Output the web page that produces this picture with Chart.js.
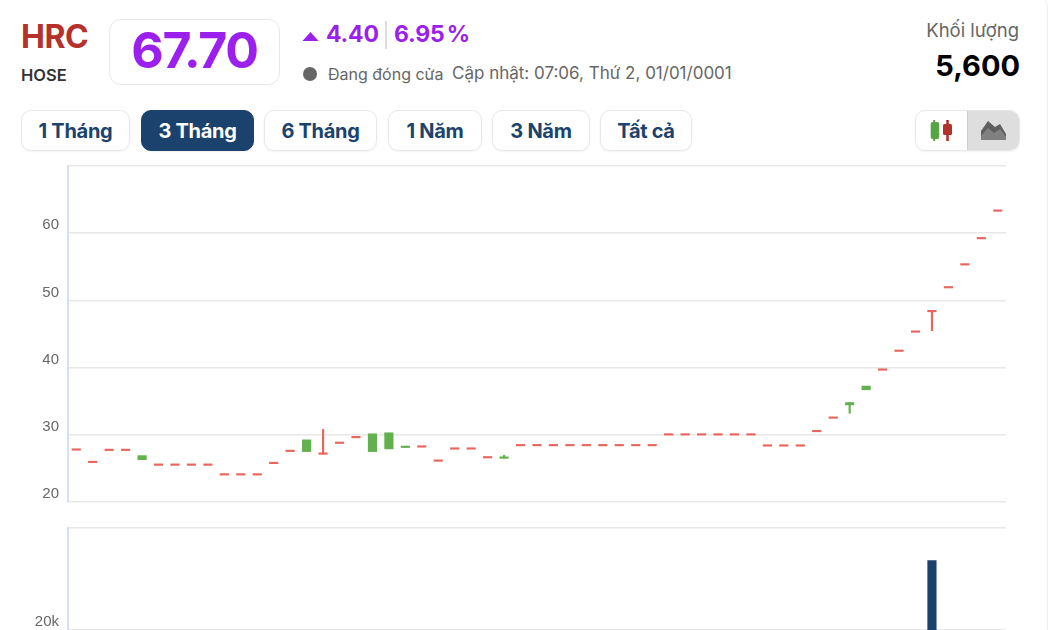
<!DOCTYPE html>
<html lang="vi">
<head>
<meta charset="utf-8">
<title>HRC</title>
<script src="https://cdn.jsdelivr.net/npm/chart.js@4"></script>
<style>
  html, body { margin: 0; padding: 0; background: #fff; }
  body { position: relative; width: 1050px; height: 630px; overflow: hidden; font-family: Inter, sans-serif; }
  .t { position: absolute; white-space: nowrap; line-height: 1; }
  .btn { position: absolute; top: 110px; height: 41px; box-sizing: border-box; border: 1.5px solid #e8e8e8; border-radius: 10px;
         box-shadow: 0 1px 2px rgba(0,0,0,.06); color: #1b436e; font-size: 20px; font-weight: 700; text-align: center; line-height: 41px; letter-spacing: -.3px; }
  .btn.on { background: #1a426d; border-color: #1a426d; color: #fff; }
  canvas { position: absolute; left: 0; }
</style>
</head>
<body>
<div style="position:absolute;left:-20px;top:-8px;width:1068px;height:700px;box-sizing:border-box;border:1.5px solid #eee;border-radius:16px"></div>
<div class="t" style="left:21px;top:21px;font-size:32px;font-weight:700;color:#b5312b;letter-spacing:-.5px">HRC</div>
<div class="t" style="left:21px;top:67px;font-size:16.5px;font-weight:600;color:#333">HOSE</div>
<div style="position:absolute;left:109px;top:19px;width:171px;height:66px;box-sizing:border-box;border:1.5px solid #e8e8e8;border-radius:12px"></div>
<div class="t" style="left:109px;width:171px;text-align:center;top:25px;font-size:50px;font-weight:700;color:#9b20ee;letter-spacing:-1.2px">67.70</div>
<svg style="position:absolute;left:302px;top:31px" width="17" height="11"><polygon points="8.5,1 16.5,10 0.5,10" fill="#9b20ee"/></svg>
<div class="t" style="left:326px;top:23px;font-size:23px;font-weight:700;color:#9b20ee;letter-spacing:-.2px">4.40</div>
<div style="position:absolute;left:385px;top:21px;width:2px;height:28px;background:#ddd"></div>
<div class="t" style="left:394px;top:23px;font-size:23px;font-weight:700;color:#9b20ee;letter-spacing:-.2px;word-spacing:-3px">6.95 %</div>
<div style="position:absolute;left:303px;top:67px;width:14px;height:14px;border-radius:50%;background:#666"></div>
<div class="t" style="left:328px;top:66px;font-size:16px;color:#666">Đang đóng cửa</div>
<div class="t" style="left:452px;top:65px;font-size:17px;color:#666">Cập nhật: 07:06, Thứ 2, 01/01/0001</div>
<div class="t" style="right:31px;top:21px;font-size:18.5px;color:#666">Khối lượng</div>
<div class="t" style="right:30px;top:51px;font-size:29px;font-weight:700;color:#000">5,600</div>

<div class="btn" style="left:21px;width:109px">1 Tháng</div>
<div class="btn on" style="left:141px;width:113px">3 Tháng</div>
<div class="btn" style="left:264px;width:113px">6 Tháng</div>
<div class="btn" style="left:388px;width:94px">1 Năm</div>
<div class="btn" style="left:492px;width:98px">3 Năm</div>
<div class="btn" style="left:600px;width:92px">Tất cả</div>

<div style="position:absolute;left:915px;top:110px;width:105px;height:41px;box-sizing:border-box;border:1.5px solid #e8e8e8;border-radius:10px;overflow:hidden;box-shadow:0 1px 2px rgba(0,0,0,.06)">
  <div style="position:absolute;left:51px;top:0;right:0;bottom:0;background:#dedede;border-left:1.5px solid #ccc"></div>
</div>
<svg style="position:absolute;left:925px;top:116px" width="30" height="30">
  <rect x="8.2" y="4" width="2" height="21" fill="#55a545"/><rect x="5.7" y="6" width="8.5" height="17" rx="2" fill="#55a545"/>
  <rect x="21.2" y="4" width="2.6" height="21" fill="#b5312b"/><rect x="18" y="8" width="9" height="11" rx="1.5" fill="#b5312b"/>
</svg>
<svg style="position:absolute;left:980px;top:119px" width="27" height="22">
  <polygon points="1,12 8,2 15,8 20,5 26,15 26,21 1,21" fill="#5f5f5f"/>
  <polygon points="1,17 8,9 14,14 20,10 26,18 26,21 1,21" fill="#808080"/>
</svg>

<canvas id="priceChart" style="top:148px" width="1050" height="372"></canvas>
<canvas id="volumeChart" style="top:510px" width="1050" height="240"></canvas>

<script>
const priceTicks = [20, 30, 40, 50, 60, 70];
const sessions = Array.from({ length: 57 }, (_, i) => i + 1);

const opens = [27.8, 25.95, 27.75, 27.75, 26.3, 25.55, 25.55, 25.55, 25.55, 24.1, 24.1, 24.1, 25.8, 27.6, 27.5, 27.3, 28.8, 29.65, 27.5, 27.9, 28.1, 28.25, 26.15, 27.95, 27.95, 26.65, 26.5, 28.45, 28.45, 28.45, 28.45, 28.45, 28.45, 28.45, 28.45, 28.45, 30.05, 30.05, 30.05, 30.05, 30.05, 30.05, 28.4, 28.4, 28.4, 30.55, 32.55, 34.45, 36.7, 39.7, 42.5, 45.35, 48.5, 51.95, 55.35, 59.25, 63.35];
const closes = [27.7, 25.85, 27.65, 27.65, 26.9, 25.45, 25.45, 25.45, 25.45, 24.0, 24.0, 24.0, 25.7, 27.5, 29.25, 27.1, 28.7, 29.55, 30.15, 30.3, 28.25, 28.15, 26.05, 27.85, 27.85, 26.55, 26.7, 28.35, 28.35, 28.35, 28.35, 28.35, 28.35, 28.35, 28.35, 28.35, 29.95, 29.95, 29.95, 29.95, 29.95, 29.95, 28.3, 28.3, 28.3, 30.45, 32.45, 34.8, 37.25, 39.6, 42.4, 45.25, 48.3, 51.85, 55.25, 59.15, 63.25];
const highs = [null, null, null, null, null, null, null, null, null, null, null, null, null, null, null, 30.8, null, null, null, null, null, null, null, null, null, null, 26.95, null, null, null, null, null, null, null, null, null, null, null, null, null, null, null, null, null, null, null, null, 34.8, null, null, null, null, 48.5, null, null, null, null];
const lows = [null, null, null, null, null, null, null, null, null, null, null, null, null, null, null, 27.1, null, null, null, null, null, null, null, null, null, null, 26.5, null, null, null, null, null, null, null, null, null, null, null, null, null, null, null, null, null, null, null, null, 33.2, null, null, null, null, 45.5, null, null, null, null];

// only the bars that can be read: the rest sit below the crop of the picture
const volumes = [null, null, null, null, null, null, null, null, null, null, null, null, null, null, null, null, null, null, null, null, null, null, null, null, null, null, null, null, null, null, null, null, null, null, null, null, null, null, null, null, null, null, null, null, null, null, null, null, null, null, null, null, 33600, null, null, null, 5600];

const upColor = '#63b04f';
const downColor = '#e8665e';
const gridColor = '#e8e8e8';
const axisColor = '#d8e0f0';
const tickFont = { family: '"Liberation Sans", Arial, sans-serif', size: 15 };

const candleColors = opens.map((o, i) => (closes[i] > o ? upColor : downColor));

function yAxis(min, max, tickValues, fmt) {
  return {
    min: min,
    max: max,
    afterFit: (scale) => { scale.width = 68; },
    afterBuildTicks: (scale) => { scale.ticks = tickValues.map((v) => ({ value: v })); },
    grid: { color: gridColor, lineWidth: 1.5, drawTicks: false },
    border: { display: true, color: axisColor, width: 2 },
    ticks: { color: '#666', font: tickFont, padding: 9, labelOffset: -8, callback: fmt },
  };
}

new Chart(document.getElementById('priceChart').getContext('2d'), {
  type: 'bar',
  data: {
    labels: sessions,
    datasets: [
      {
        label: 'Thân nến',
        data: opens.map((o, i) => [o, closes[i]]),
        backgroundColor: candleColors,
        barThickness: 8.5,
        grouped: false,
        minBarLength: 1.5,
      },
      {
        label: 'Bóng nến',
        data: lows.map((l, i) => (l === null ? null : [l, highs[i]])),
        backgroundColor: candleColors,
        barThickness: 1.5,
        grouped: false,
      },
    ],
  },
  options: {
    responsive: false,
    animation: false,
    layout: { padding: { top: 0, right: 44, bottom: 0, left: 0 } },
    plugins: { legend: { display: false }, tooltip: { enabled: false } },
    scales: {
      x: { display: false },
      y: yAxis(20, 70, priceTicks, (v) => (v === 70 ? '' : v)),
    },
  },
});

new Chart(document.getElementById('volumeChart').getContext('2d'), {
  type: 'bar',
  data: {
    labels: sessions,
    datasets: [
      {
        label: 'Khối lượng',
        data: volumes,
        backgroundColor: '#1a426d',
        barThickness: 8.5,
      },
    ],
  },
  options: {
    responsive: false,
    animation: false,
    layout: { padding: { top: 0, right: 44, bottom: 0, left: 0 } },
    plugins: { legend: { display: false }, tooltip: { enabled: false } },
    scales: {
      x: { display: false },
      y: yAxis(0, 40000, [0, 20000, 40000], (v) => (v === 20000 ? '20k' : '')),
    },
  },
});
</script>
</body>
</html>
